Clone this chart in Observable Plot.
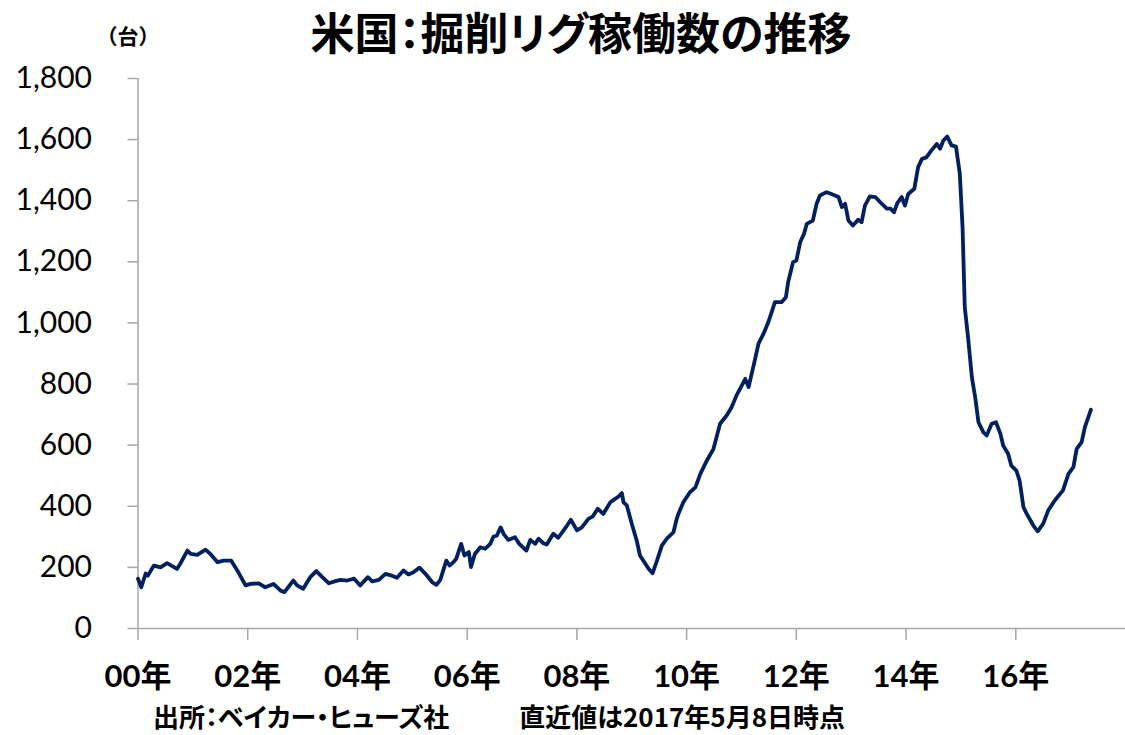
<!DOCTYPE html>
<html>
<head>
<meta charset="utf-8">
<script src="https://cdn.jsdelivr.net/npm/d3@7"></script>
<script src="https://cdn.jsdelivr.net/npm/@observablehq/plot@0.6"></script>
<style>
  html, body { margin: 0; padding: 0; background: #fff; }
  #chart { width: 1125px; height: 735px; }
  .jp { font-family: "Noto Sans CJK JP", sans-serif; }
  .palt { font-feature-settings: "palt"; }
</style>
</head>
<body>
<div id="chart"></div>
<script>
// ---- Data: decimal year, US oil-directed rig count ----
const years = [
  2000.00, 2000.06, 2000.14, 2000.18, 2000.29, 2000.41, 2000.53, 2000.71, 2000.77, 2000.90, 2000.96,
  2001.08, 2001.23, 2001.32, 2001.45, 2001.56, 2001.70, 2001.81, 2001.96,
  2002.05, 2002.20, 2002.32, 2002.47, 2002.60, 2002.67, 2002.83, 2002.90,
  2003.01, 2003.14, 2003.25, 2003.36, 2003.48, 2003.60, 2003.69, 2003.81, 2003.94,
  2004.05, 2004.19, 2004.27, 2004.39, 2004.51, 2004.63, 2004.72, 2004.84, 2004.93,
  2005.02, 2005.13, 2005.24, 2005.36, 2005.44, 2005.51, 2005.62, 2005.68, 2005.75, 2005.80, 2005.89, 2005.95,
  2006.03, 2006.07, 2006.14, 2006.24, 2006.33, 2006.42, 2006.48, 2006.54, 2006.61, 2006.67, 2006.75, 2006.87, 2006.95,
  2007.08, 2007.15, 2007.24, 2007.30, 2007.39, 2007.45, 2007.57, 2007.66, 2007.82, 2007.89,
  2008.00, 2008.09, 2008.21, 2008.29, 2008.38, 2008.48, 2008.61, 2008.67, 2008.76, 2008.82, 2008.85, 2008.91,
  2009.00, 2009.09, 2009.15, 2009.23, 2009.31, 2009.38, 2009.46, 2009.55, 2009.64, 2009.76, 2009.82, 2009.85, 2009.94,
  2010.06, 2010.16, 2010.25, 2010.37, 2010.49, 2010.61, 2010.73, 2010.82, 2010.91,
  2011.07, 2011.13, 2011.25, 2011.31, 2011.40, 2011.49, 2011.61, 2011.73, 2011.81, 2011.85, 2011.94,
  2012.00, 2012.07, 2012.14, 2012.19, 2012.30, 2012.37, 2012.43, 2012.55, 2012.64, 2012.77, 2012.83, 2012.89, 2012.95,
  2013.03, 2013.13, 2013.19, 2013.25, 2013.34, 2013.44, 2013.53, 2013.65, 2013.72, 2013.78, 2013.84, 2013.92, 2013.98,
  2014.04, 2014.15, 2014.22, 2014.29, 2014.37, 2014.46, 2014.56, 2014.62, 2014.68, 2014.75, 2014.83, 2014.91, 2014.98,
  2015.03, 2015.07, 2015.13, 2015.20, 2015.26, 2015.32, 2015.41, 2015.47, 2015.56, 2015.64, 2015.72, 2015.77, 2015.86, 2015.92,
  2016.01, 2016.07, 2016.14, 2016.20, 2016.32, 2016.40, 2016.50, 2016.59, 2016.71, 2016.86, 2016.96,
  2017.05, 2017.11, 2017.20, 2017.26, 2017.37
];
const rigs = [
  163, 135, 180, 173, 206, 200, 214, 195, 212, 255, 244,
  241, 258, 244, 217, 222, 222, 190, 141,
  146, 148, 135, 146, 124, 119, 157, 141,
  130, 168, 188, 168, 148, 155, 159, 157, 163,
  141, 168, 154, 159, 179, 173, 166, 190, 177,
  184, 199, 179, 152, 143, 159, 222, 206, 217, 228, 277, 239,
  250, 201, 244, 266, 261, 277, 301, 304, 331, 308, 290, 299, 277,
  255, 290, 277, 294, 279, 275, 310, 297, 337, 356,
  321, 331, 359, 367, 392, 375, 413, 421, 432, 443, 413, 403,
  343, 288, 239, 217, 195, 181, 222, 272, 294, 315, 359, 375, 413,
  446, 462, 506, 550, 588, 670, 697, 724, 763,
  817, 790, 883, 932, 964, 1003, 1068, 1068, 1084, 1133, 1199,
  1204, 1264, 1292, 1324, 1335, 1390, 1417, 1428, 1422, 1412, 1379, 1390, 1335,
  1319, 1338, 1330, 1384, 1414, 1412, 1395, 1374, 1374, 1362, 1392, 1412, 1384,
  1422, 1439, 1510, 1537, 1542, 1564, 1586, 1570, 1597, 1610, 1581, 1577, 1488,
  1313, 1052, 953, 822, 757, 675, 642, 632, 670, 675, 637, 599, 572, 533,
  517, 484, 397, 375, 337, 318, 343, 386, 419, 452, 506,
  528, 588, 610, 659, 716
];
const xTicks = [2000, 2002, 2004, 2006, 2008, 2010, 2012, 2014, 2016];
const xTickLabels = ["00年", "02年", "04年", "06年", "08年", "10年", "12年", "14年", "16年"];
const yTicks = [0, 200, 400, 600, 800, 1000, 1200, 1400, 1600, 1800];
const titleText = "米国：掘削リグ稼働数の推移";
const unitText = "（台）";
const sourceText = "出所：ベイカー・ヒューズ社";
const noteText = "直近値は2017年5月8日時点";

const data = years.map((t, i) => ({t, v: rigs[i]}));
const labelOf = new Map(xTicks.map((t, i) => [t, xTickLabels[i]]));

const axisGray = "#a6a6a6";
const chart = Plot.plot({
  width: 1125,
  height: 735,
  marginLeft: 137.5,
  marginRight: 0,
  marginTop: 78,
  marginBottom: 107,
  style: {background: "#fff", color: "#000", overflow: "visible"},
  x: {type: "linear", domain: [2000, 2018]},
  y: {domain: [0, 1800]},
  marks: [
    Plot.ruleY([0], {stroke: axisGray, strokeWidth: 1.5}),
    Plot.ruleX([2000], {stroke: axisGray, strokeWidth: 1.5}),
    Plot.axisY({
      ticks: yTicks, tickSize: 10, tickPadding: 36,
      tickFormat: d3.format(","), stroke: axisGray, strokeWidth: 1.5,
      fontSize: 30, fontFamily: "Lato, 'Noto Sans', sans-serif", label: null
    }),
    Plot.axisX({
      ticks: xTicks, tickSize: 12, tickPadding: 24,
      tickFormat: d => labelOf.get(d), stroke: axisGray, strokeWidth: 1.5,
      fontSize: 31, fontWeight: "bold",
      fontFamily: "Lato, 'Noto Sans CJK JP', sans-serif", label: null
    }),
    Plot.line(data, {x: "t", y: "v", stroke: "#002060", strokeWidth: 3.8,
      strokeLinejoin: "round", strokeLinecap: "round"})
  ]
});

const svg = d3.select(chart);

svg.append("text")
  .attr("class", "jp palt")
  .attr("x", 581).attr("y", 50)
  .attr("text-anchor", "middle")
  .attr("font-size", 44).attr("font-weight", "bold").attr("fill", "#000")
  .text(titleText);

svg.append("text")
  .attr("class", "jp")
  .attr("x", 128).attr("y", 44)
  .attr("text-anchor", "middle")
  .attr("font-size", 21).attr("font-weight", "bold").attr("fill", "#000")
  .text(unitText);

svg.append("text")
  .attr("class", "jp palt")
  .attr("x", 153).attr("y", 727)
  .attr("text-anchor", "start")
  .attr("font-size", 26).attr("font-weight", "bold").attr("fill", "#000")
  .text(sourceText);

svg.append("text")
  .attr("class", "jp palt")
  .attr("x", 845).attr("y", 727)
  .attr("text-anchor", "end")
  .attr("font-size", 26).attr("font-weight", "bold").attr("fill", "#000")
  .text(noteText);

document.getElementById("chart").appendChild(chart);
</script>
</body>
</html>
